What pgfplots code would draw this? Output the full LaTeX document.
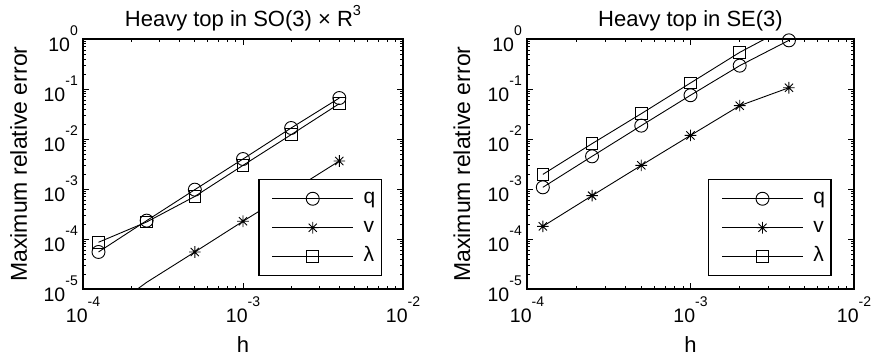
\documentclass[border=0pt]{standalone}
\usepackage{pgfplots}
\pgfplotsset{compat=1.18}
\usepackage{fontspec}
\setmainfont{Liberation Sans}

\pgfdeclareplotmark{mstar}{%
  \pgfpathmoveto{\pgfqpoint{-\pgfplotmarksize}{0pt}}\pgfpathlineto{\pgfqpoint{\pgfplotmarksize}{0pt}}%
  \pgfpathmoveto{\pgfqpoint{0pt}{-\pgfplotmarksize}}\pgfpathlineto{\pgfqpoint{0pt}{\pgfplotmarksize}}%
  \pgfpathmoveto{\pgfqpoint{-.707\pgfplotmarksize}{-.707\pgfplotmarksize}}\pgfpathlineto{\pgfqpoint{.707\pgfplotmarksize}{.707\pgfplotmarksize}}%
  \pgfpathmoveto{\pgfqpoint{-.707\pgfplotmarksize}{.707\pgfplotmarksize}}\pgfpathlineto{\pgfqpoint{.707\pgfplotmarksize}{-.707\pgfplotmarksize}}%
  \pgfusepathqstroke}

\newcommand{\tlab}[1]{10\raisebox{16pt}{\fontsize{14}{15}\selectfont #1}}

\tikzset{
  mq/.style={black, line width=0.9pt, mark=o, mark size=6.5pt, mark options={fill=white, solid, line width=0.9pt}},
  mv/.style={black, line width=0.9pt, mark=mstar, mark size=5.8pt, mark options={solid, line width=0.9pt}},
  ml/.style={black, line width=0.9pt, mark=square, mark size=5.8pt, mark options={fill=white, solid, line width=0.9pt}},
}
\pgfplotsset{
  every axis title shift=0pt,
  every axis/.append style={
    scale only axis, height=250pt,
    xmin=1e-4, xmax=1e-2, ymin=1e-5, ymax=1,
    xtick={1e-4,1e-3,1e-2}, xticklabels={\tlab{-4},\tlab{-3},\tlab{-2}},
    ytick={1e-5,1e-4,1e-3,1e-2,1e-1,1},
    yticklabels={\tlab{-5},\tlab{-4},\tlab{-3},\tlab{-2},\tlab{-1},\tlab{0}},
    minor xtick={2e-4,3e-4,4e-4,5e-4,6e-4,7e-4,8e-4,9e-4,2e-3,3e-3,4e-3,5e-3,6e-3,7e-3,8e-3,9e-3},
    minor ytick={2e-5,3e-5,4e-5,5e-5,6e-5,7e-5,8e-5,9e-5,2e-4,3e-4,4e-4,5e-4,6e-4,7e-4,8e-4,9e-4,
                 2e-3,3e-3,4e-3,5e-3,6e-3,7e-3,8e-3,9e-3,2e-2,3e-2,4e-2,5e-2,6e-2,7e-2,8e-2,9e-2,
                 2e-1,3e-1,4e-1,5e-1,6e-1,7e-1,8e-1,9e-1},
    tick align=inside, major tick length=6pt, minor tick length=3pt,
    axis line style={line width=1.5pt},
    every tick/.append style={black, line width=0.7pt},
    tick label style={font=\fontsize{19.5}{21}\selectfont},
    xticklabel style={anchor=base, yshift=-33.3pt, inner sep=0pt},
    yticklabel style={anchor=east, xshift=-5pt, inner sep=0pt},
    xlabel style={at={(axis description cs:0.5,-0.252)}, anchor=base, inner sep=0pt, font=\fontsize{22}{25}\selectfont},
    title style={at={(axis description cs:0.5,1.049)}, anchor=base, inner sep=0pt, font=\fontsize{22}{25}\selectfont},
    legend cell align=left,
    legend style={anchor=south west, draw=black, line width=1.5pt, fill=white,
      inner xsep=6pt, inner ysep=9pt, row sep=9pt,
      nodes={inner sep=0pt, text height=15pt, text depth=5pt, font=\fontsize{21}{25}\selectfont},
      /tikz/every odd column/.append style={column sep=10pt}},
  },
  legend image code/.code={\path (0pt,0pt); \draw[#1] plot coordinates {(7pt,0pt) (47.5pt,0pt) (88pt,0pt)};},
}

\begin{document}
\fontsize{21}{25}\selectfont
\begin{tikzpicture}
\begin{loglogaxis}[width=320pt,
  xlabel={h}, ylabel={Maximum relative error},
  title={Heavy top in SO(3) × R\raisebox{11.7pt}{\fontsize{14.5}{15}\selectfont 3}},
  ylabel style={at={(axis description cs:-0.175,0.5)}, anchor=base, inner sep=0pt, font=\fontsize{23}{25}\selectfont},
  legend style={at={(axis description cs:0.547,0.05)}}]
\addlegendimage{mq, mark repeat=2, mark phase=2}\addlegendentry{q}
\addlegendimage{mv, mark repeat=2, mark phase=2}\addlegendentry{v}
\addlegendimage{ml, mark repeat=2, mark phase=2}\addlegendentry{λ}
\addplot[mq, forget plot] coordinates {(1.25e-4,5.5e-5) (2.5e-4,2.33e-4) (5e-4,9.7e-4) (1e-3,3.98e-3) (2e-3,1.66e-2) (4e-3,6.6e-2)};
\addplot[mv, forget plot, mark indices={2,3,4,5,6}] coordinates {(1.25e-4,2.7e-6) (2.5e-4,1.36e-5) (5e-4,5.5e-5) (1e-3,2.26e-4) (2e-3,9.0e-4) (4e-3,3.63e-3)};
\addplot[ml, forget plot] coordinates {(1.25e-4,8.6e-5) (2.5e-4,2.19e-4) (5e-4,7.1e-4) (1e-3,2.97e-3) (2e-3,1.22e-2) (4e-3,5.09e-2)};
\end{loglogaxis}
\begin{loglogaxis}[width=327pt, at={(444pt,0pt)}, anchor=south west,
  xlabel={h}, ylabel={Maximum relative error},
  title={Heavy top in SE(3)},
  ylabel style={at={(axis description cs:-0.174,0.5)}, anchor=base, inner sep=0pt, font=\fontsize{23}{25}\selectfont},
  legend style={at={(axis description cs:0.553,0.05)}}]
\addlegendimage{mq, mark repeat=2, mark phase=2}\addlegendentry{q}
\addlegendimage{mv, mark repeat=2, mark phase=2}\addlegendentry{v}
\addlegendimage{ml, mark repeat=2, mark phase=2}\addlegendentry{λ}
\addplot[mq, forget plot] coordinates {(1.25e-4,1.08e-3) (2.5e-4,4.5e-3) (5e-4,1.85e-2) (1e-3,7.5e-2) (2e-3,0.293) (4e-3,0.94)};
\addplot[mv, forget plot] coordinates {(1.25e-4,1.79e-4) (2.5e-4,7.35e-4) (5e-4,2.97e-3) (1e-3,1.18e-2) (2e-3,4.64e-2) (4e-3,0.106)};
\addplot[ml, forget plot, mark indices={1,2,3,4,5}] coordinates {(1.25e-4,1.96e-3) (2.5e-4,8.07e-3) (5e-4,3.21e-2) (1e-3,0.132) (2e-3,0.54) (4e-3,1.8)};
\end{loglogaxis}
\pgfresetboundingbox
\path (-83pt,-69pt) rectangle (790pt,289pt);
\end{tikzpicture}
\end{document}
